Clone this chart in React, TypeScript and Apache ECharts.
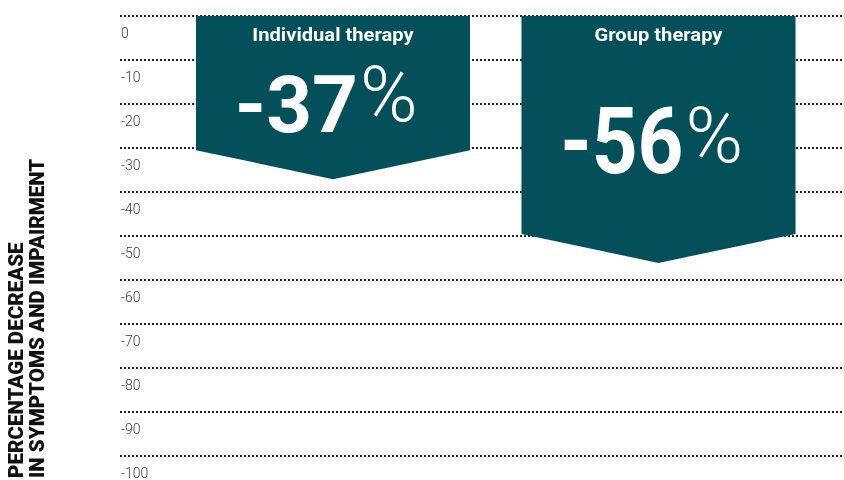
import React, { useEffect, useRef } from "react";
import * as echarts from "echarts";

// ---- data ----
const CATEGORIES = ["Individual therapy", "Group therapy"];
const VALUES = [-37, -56];
const Y_MIN = -100;
const Y_MAX = 0;
const Y_STEP = 10;
const AXIS_NAME = "PERCENTAGE DECREASE\nIN SYMPTOMS AND IMPAIRMENT";

// ---- styles (kept apart from data) ----
const BAR_COLOR = "#03505a";
const NUMBER_BASELINE_FRAC = [0.72, 0.64];
const NUMBER_SCALE_Y = [1, 1.17];

export default function App() {
  const ref = useRef<HTMLDivElement>(null);

  useEffect(() => {
    document.body.style.margin = "0";
    if (!ref.current) return;
    const chart = echarts.init(ref.current, undefined, { renderer: "svg" });

    const seriesData = VALUES.map((v, i) => [i, v]);

    const renderItem = (params: any, api: any) => {
      const idx = params.dataIndex;
      const cat = api.value(0);
      const val = api.value(1);
      const top = api.coord([cat, 0]);
      const tip = api.coord([cat, val]);
      const bandW = api.size([1, 0])[0];
      const w = bandW * 0.842;
      const cx = top[0];
      const y0 = top[1];
      const yt = tip[1];
      const ys = yt - 29;
      const yb = y0 + NUMBER_BASELINE_FRAC[idx] * (yt - y0);
      const s = NUMBER_SCALE_Y[idx];
      return {
        type: "group",
        children: [
          {
            type: "polygon",
            shape: {
              points: [
                [cx - w / 2, y0],
                [cx + w / 2, y0],
                [cx + w / 2, ys],
                [cx, yt],
                [cx - w / 2, ys],
              ],
            },
            style: { fill: BAR_COLOR },
          },
          {
            type: "text",
            x: cx,
            y: y0 + 18.5,
            scaleX: 1.12,
            style: {
              text: CATEGORIES[idx],
              fill: "#ffffff",
              fontFamily: "Roboto",
              fontWeight: "bold",
              fontSize: 18,
              align: "center",
              verticalAlign: "middle",
            },
          },
          {
            type: "text",
            x: cx + 25,
            y: yb - 28.5 * s,
            scaleY: s,
            style: {
              text: String(val),
              fill: "#ffffff",
              fontFamily: "Roboto",
              fontWeight: "bold",
              fontSize: 80,
              align: "right",
              verticalAlign: "middle",
            },
          },
          {
            type: "text",
            x: cx + 27,
            y: yb - 10.5 - 28,
            style: {
              text: "%",
              fill: "#ffffff",
              fontFamily: "Roboto",
              fontWeight: 300,
              fontSize: 78,
              align: "left",
              verticalAlign: "middle",
            },
          },
        ],
      };
    };

    chart.setOption({
      animation: false,
      grid: [
        { left: 120, right: 0, top: 16, bottom: 23 },
        { left: 170.25, right: 22.75, top: 16, bottom: 23 },
      ],
      xAxis: [
        { gridIndex: 0, type: "value", show: false, min: 0, max: 1 },
        {
          gridIndex: 1,
          type: "category",
          data: CATEGORIES,
          show: false,
        },
      ],
      yAxis: [
        {
          gridIndex: 0,
          type: "value",
          min: Y_MIN,
          max: Y_MAX,
          interval: Y_STEP,
          axisLine: { show: false },
          axisTick: { show: false },
          axisLabel: {
            inside: true,
            margin: 1,
            align: "left",
            verticalAlign: "top",
            padding: [10, 0, 0, 0],
            color: "#3a3a3a",
            fontFamily: "Roboto",
            fontWeight: 300,
            fontSize: 14,
          },
          splitLine: {
            show: true,
            lineStyle: { color: "#222222", width: 2, type: [2, 2] },
          },
        },
        {
          gridIndex: 1,
          type: "value",
          min: Y_MIN,
          max: Y_MAX,
          interval: Y_STEP,
          show: false,
          splitLine: { show: false },
        },
      ],
      series: [
        {
          type: "custom",
          xAxisIndex: 1,
          yAxisIndex: 1,
          data: seriesData,
          encode: { x: 0, y: 1 },
          renderItem,
          z: 5,
        },
      ],
      graphic: [
        {
          type: "text",
          x: 27,
          y: 478,
          rotation: Math.PI / 2,
          scaleX: 1.03,
          style: {
            text: AXIS_NAME,
            fill: "#111111",
            fontFamily: "Roboto",
            fontWeight: 900,
            fontSize: 20,
            lineHeight: 21,
            align: "left",
            verticalAlign: "middle",
          },
        },
      ],
    });

    return () => chart.dispose();
  }, []);

  return (
    <div
      ref={ref}
      style={{ position: "fixed", left: 0, top: 0, width: 844, height: 480 }}
    />
  );
}
